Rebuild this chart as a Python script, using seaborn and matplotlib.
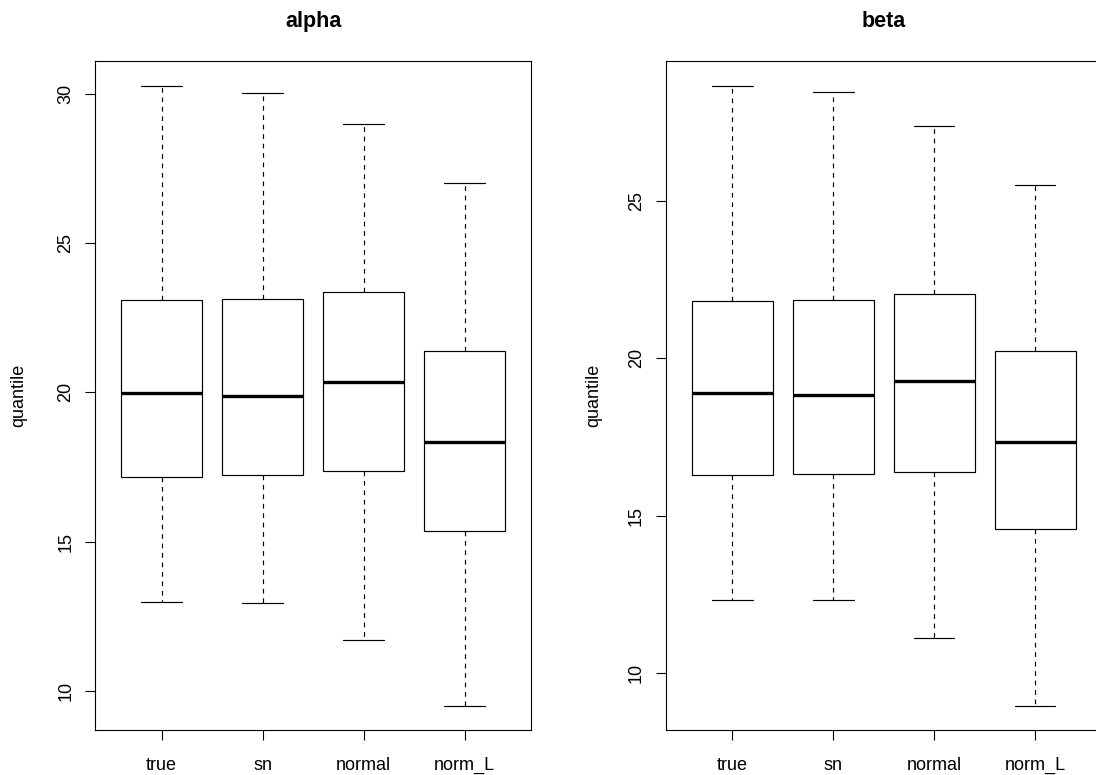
import numpy as np
import pandas as pd
import matplotlib
matplotlib.use("Agg")
import matplotlib.pyplot as plt
import seaborn as sns

# Five-number summaries (min, Q1, median, Q3, max) of posterior quantiles
groups = ["true", "sn", "normal", "norm_L"]

alpha_true = [12.99, 17.18, 19.99, 23.10, 30.27]
alpha_sn = [12.94, 17.23, 19.89, 23.13, 30.04]
alpha_normal = [11.71, 17.37, 20.36, 23.37, 28.98]
alpha_norm_L = [9.51, 15.37, 18.35, 21.39, 27.02]

beta_true = [12.33, 16.29, 18.90, 21.83, 28.65]
beta_sn = [12.31, 16.32, 18.82, 21.85, 28.45]
beta_normal = [11.10, 16.40, 19.29, 22.05, 27.36]
beta_norm_L = [8.97, 14.56, 17.35, 20.24, 25.51]

alpha_ticks = [10, 15, 20, 25, 30]
beta_ticks = [10, 15, 20, 25]

sns.set_theme(style="ticks", rc={
    "axes.edgecolor": "black",
    "axes.linewidth": 0.8,
    "xtick.color": "black",
    "ytick.color": "black",
    "xtick.major.width": 0.8,
    "ytick.major.width": 0.8,
    "xtick.major.size": 7.5,
    "ytick.major.size": 7.5,
    "text.color": "black",
    "axes.labelcolor": "black",
})
plt.rcParams["font.family"] = ["Liberation Sans", "DejaVu Sans"]

W, H = 1096, 775
fig = plt.figure(figsize=(W / 100, H / 100), dpi=100)


def long_frame(series):
    rows = []
    for name, vals in zip(groups, series):
        for v in vals:
            rows.append((name, v))
    return pd.DataFrame(rows, columns=["group", "value"])


def panel(left_px, series, ticks, title, label_x):
    ax = fig.add_axes([left_px / W, 44.7 / H, 436.2 / W, 669.3 / H])
    df = long_frame(series)
    sns.boxplot(
        data=df, x="group", y="value", order=groups, ax=ax,
        color="white", linecolor="black", saturation=1, linewidth=0.85,
        width=0.8, whis=(0, 100), fliersize=0,
        whiskerprops=dict(linestyle=(0, (4, 4)), linewidth=0.85),
        capprops=dict(linewidth=0.85),
        medianprops=dict(linewidth=2.4, color="black"),
    )
    lo = min(min(s) for s in series)
    hi = max(max(s) for s in series)
    span = hi - lo
    ax.set_ylim(lo - 0.04 * span, hi + 0.04 * span)
    ax.set_xlim(-0.66, len(groups) - 1 + 0.66)
    ax.set_yticks(ticks)
    ax.set_yticklabels([str(t) for t in ticks])
    ax.tick_params(axis="y", labelrotation=90, labelsize=13, pad=7.5)
    ax.tick_params(axis="x", labelsize=13, pad=11.8)
    for lab in ax.get_yticklabels():
        lab.set_va("center")
    for side in ["top", "right", "left", "bottom"]:
        ax.spines[side].set_visible(True)
        ax.spines[side].set_color("black")
    ax.set_xlabel("")
    ax.set_ylabel("quantile", fontsize=13)
    ax.yaxis.set_label_coords(label_x, 0.5)
    ax.set_title(title, fontsize=15.5, fontweight="bold", pad=24.5)
    return ax


panel(95.0, [alpha_true, alpha_sn, alpha_normal, alpha_norm_L], alpha_ticks, "alpha", -0.156)
panel(665.7, [beta_true, beta_sn, beta_normal, beta_norm_L], beta_ticks, "beta", -0.146)

fig.savefig("out.png", dpi=100)
